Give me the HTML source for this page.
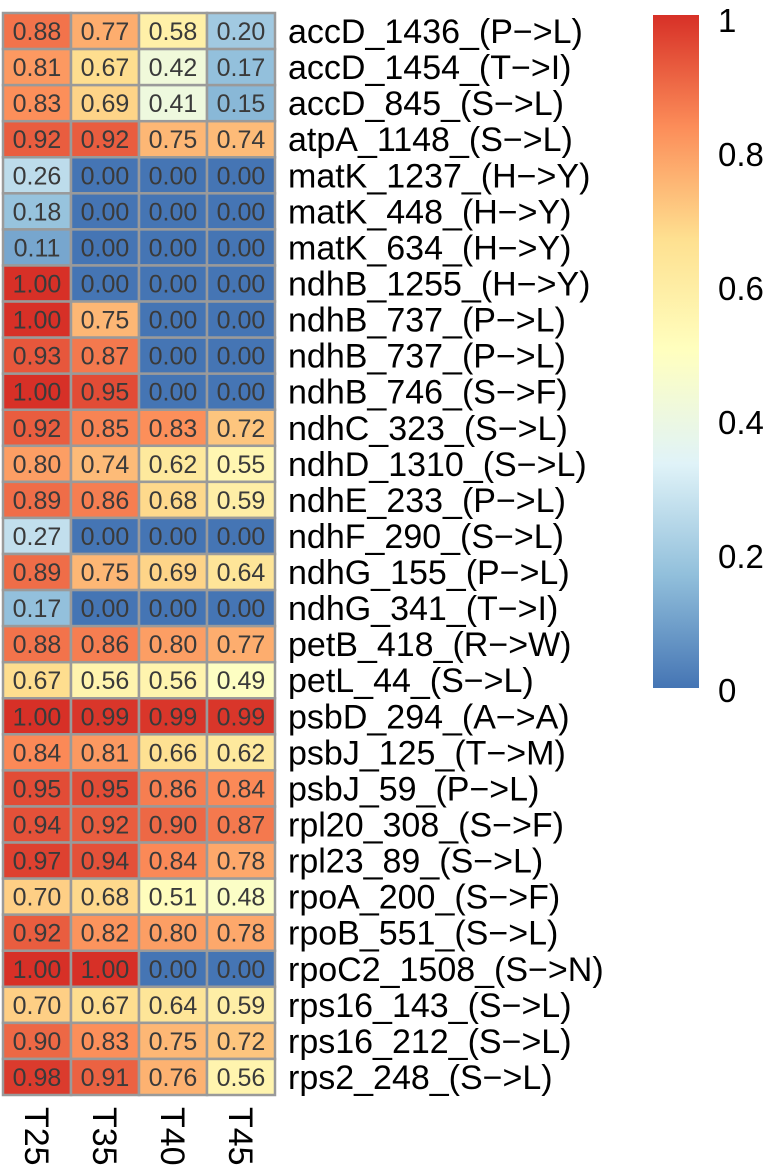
<!DOCTYPE html>
<html><head><meta charset="utf-8"><style>
html,body{margin:0;padding:0;background:#fff;}
svg{display:block;font-family:"Liberation Sans",Arial,sans-serif;}
</style></head><body>
<svg id="chart" width="768" height="1171" viewBox="0 0 768 1171" xmlns="http://www.w3.org/2000/svg">
<defs>
<linearGradient id="cbgrad" x1="0" y1="1" x2="0" y2="0">
<stop offset="0" stop-color="#4575B4"/><stop offset="0.1667" stop-color="#91BFDB"/><stop offset="0.3333" stop-color="#E0F3F8"/><stop offset="0.5" stop-color="#FFFFBF"/><stop offset="0.6667" stop-color="#FEE090"/><stop offset="0.8333" stop-color="#FC8D59"/><stop offset="1" stop-color="#D73027"/>
</linearGradient>
</defs>
<g id="cells"></g>
<g id="rowlabels"></g>
<g id="collabels"></g>
<g id="legend"></g>
</svg>
<script>
const columns = ["T25","T35","T40","T45"];
const rows = ["accD_1436_(P−>L)","accD_1454_(T−>I)","accD_845_(S−>L)","atpA_1148_(S−>L)","matK_1237_(H−>Y)","matK_448_(H−>Y)","matK_634_(H−>Y)","ndhB_1255_(H−>Y)","ndhB_737_(P−>L)","ndhB_737_(P−>L)","ndhB_746_(S−>F)","ndhC_323_(S−>L)","ndhD_1310_(S−>L)","ndhE_233_(P−>L)","ndhF_290_(S−>L)","ndhG_155_(P−>L)","ndhG_341_(T−>I)","petB_418_(R−>W)","petL_44_(S−>L)","psbD_294_(A−>A)","psbJ_125_(T−>M)","psbJ_59_(P−>L)","rpl20_308_(S−>F)","rpl23_89_(S−>L)","rpoA_200_(S−>F)","rpoB_551_(S−>L)","rpoC2_1508_(S−>N)","rps16_143_(S−>L)","rps16_212_(S−>L)","rps2_248_(S−>L)"];
const valuesT25 = [0.88,0.81,0.83,0.92,0.26,0.18,0.11,1.00,1.00,0.93,1.00,0.92,0.80,0.89,0.27,0.89,0.17,0.88,0.67,1.00,0.84,0.95,0.94,0.97,0.70,0.92,1.00,0.70,0.90,0.98];
const valuesT35 = [0.77,0.67,0.69,0.92,0,0,0,0,0.75,0.87,0.95,0.85,0.74,0.86,0,0.75,0,0.86,0.56,0.99,0.81,0.95,0.92,0.94,0.68,0.82,1.00,0.67,0.83,0.91];
const valuesT40 = [0.58,0.42,0.41,0.75,0,0,0,0,0,0,0,0.83,0.62,0.68,0,0.69,0,0.80,0.56,0.99,0.66,0.86,0.90,0.84,0.51,0.80,0,0.64,0.75,0.76];
const valuesT45 = [0.20,0.17,0.15,0.74,0,0,0,0,0,0,0,0.72,0.55,0.59,0,0.64,0,0.77,0.49,0.99,0.62,0.84,0.87,0.78,0.48,0.78,0,0.59,0.72,0.56];
const legendTicks = [0,0.2,0.4,0.6,0.8,1];
const legendTickLabels = ["0","0.2","0.4","0.6","0.8","1"];

const series=[valuesT25,valuesT35,valuesT40,valuesT45];
const X0=3,CW=68,Y0=13,RH=(1095-13)/30;
const xPos=i=>X0+i*CW, yPos=j=>Y0+j*RH;
const pal=["#4575B4","#91BFDB","#E0F3F8","#FFFFBF","#FEE090","#FC8D59","#D73027"];
function hex(h){return [1,3,5].map(k=>parseInt(h.substr(k,2),16));}
function color(v){const t=Math.max(0,Math.min(1,v))*6;const i=Math.min(5,Math.floor(t));const f=t-i;const a=hex(pal[i]),b=hex(pal[i+1]);return "rgb("+a.map((c,k)=>Math.round(c+(b[k]-c)*f)).join(",")+")";}
const NS="http://www.w3.org/2000/svg";
function mk(tag,attrs,parent){const e=document.createElementNS(NS,tag);for(const k in attrs)e.setAttribute(k,attrs[k]);parent.appendChild(e);return e;}
const gc=document.getElementById('cells');
series.forEach((vals,i)=>{vals.forEach((v,j)=>{
 const r=mk('rect',{x:xPos(i),y:yPos(j),width:CW,height:RH,fill:color(v),stroke:'#9a9a9a','stroke-width':2.5},gc);
 
 
 const t=mk('text',{x:xPos(i)+CW/2,y:yPos(j)+RH/2+9,'text-anchor':'middle','font-size':25,fill:'#3a3a3a'},gc);
 t.textContent=v.toFixed(2);
 
 
});});
const gr=document.getElementById('rowlabels');
rows.forEach((s,j)=>{const t=mk('text',{x:288,y:yPos(j)+RH/2+12,'font-size':34,fill:'#000'},gr);t.textContent=s;
 
 });
const gcl=document.getElementById('collabels');
columns.forEach((s,i)=>{const cx=xPos(i)+CW/2;const t=mk('text',{x:0,y:0,'font-size':34,fill:'#000',transform:'translate('+(cx-12)+',1107) rotate(90)'},gcl);t.textContent=s;
 
 });
const gl=document.getElementById('legend');
const LT=15,LB=688,lY=v=>LB-(LB-LT)*v;
const bar=mk('rect',{x:653,y:LT,width:46,height:LB-LT,fill:'url(#cbgrad)'},gl);


const TT=20,TB=690,tY=v=>TB-(TB-TT)*v;
legendTicks.forEach((v,k)=>{const t=mk('text',{x:718,y:tY(v)+12,'font-size':33,fill:'#000'},gl);t.textContent=legendTickLabels[k];
 
 });
</script>
</body></html>
